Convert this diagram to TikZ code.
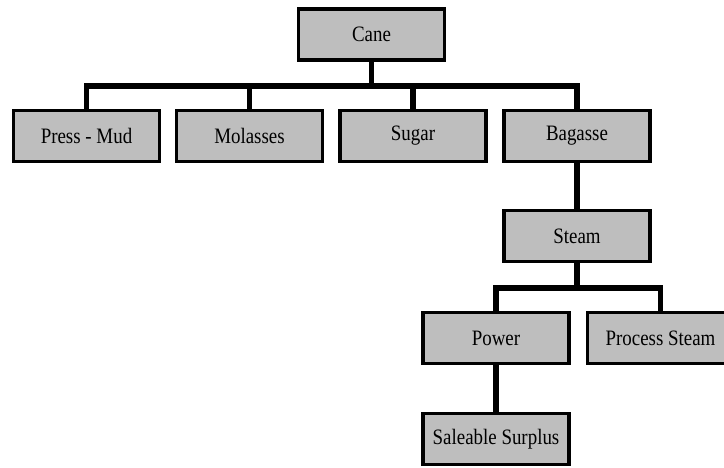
\documentclass[tikz,border=0pt]{standalone}
\usepackage{fontspec}
\setmainfont{Liberation Serif}
\begin{document}
\begin{tikzpicture}[x=1pt,y=-1pt,
  box/.style={draw=black, line width=3.5pt, fill=boxgray, minimum width=146pt, minimum height=51pt, inner sep=0pt,
    font=\fontsize{22}{24}\selectfont},
  conn/.style={line width=5.5pt, line cap=rect, line join=miter}]
\definecolor{boxgray}{RGB}{190,190,190}
\useasboundingbox (0,0) rectangle (724,468);
\clip (0,0) rectangle (724,468);
\newcommand{\sq}[1]{\scalebox{0.86}[1]{#1}}
\node[box] (cane) at (371.5,34.5) {\sq{Cane}};
\node[box] (pm) at (86.5,136) {\sq{Press - Mud}};
\node[box] (mol) at (249.5,136) {\sq{Molasses}};
\node[box] (sug) at (413,136) {\sq{Sugar}};
\node[box] (bag) at (577,136) {\sq{Bagasse}};
\node[box] (stm) at (577,236) {\sq{Steam}};
\node[box] (pow) at (496,338) {\sq{Power}};
\node[box] (ps) at (660.5,338) {\sq{Process Steam}};
\node[box] (sal) at (496,439) {\sq{Saleable Surplus}};
\coordinate (bus1) at (0,86);
\coordinate (bus2) at (0,288);
\draw[conn] (pm.north) -- (pm.north |- bus1) -- (bag.north |- bus1) -- (bag.north);
\draw[conn] (cane.south) -- (cane.south |- bus1);
\draw[conn] (mol.north) -- (mol.north |- bus1);
\draw[conn] (sug.north) -- (sug.north |- bus1);
\draw[conn] (bag.south) -- (stm.north);
\draw[conn] (pow.north) -- (pow.north |- bus2) -- (ps.north |- bus2) -- (ps.north);
\draw[conn] (stm.south) -- (stm.south |- bus2);
\draw[conn] (pow.south) -- (sal.north);
\end{tikzpicture}
\end{document}
